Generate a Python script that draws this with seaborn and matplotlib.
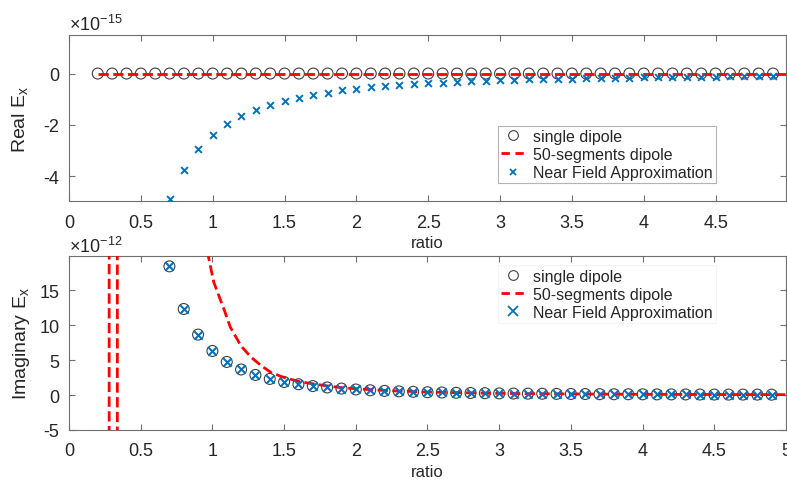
import numpy as np
import pandas as pd
import seaborn as sns
import matplotlib.pyplot as plt
from matplotlib.lines import Line2D

# ratio sample points (markers)
ratio = [0.2, 0.3, 0.4, 0.5, 0.6, 0.7, 0.8, 0.9, 1.0, 1.1, 1.2, 1.3, 1.4, 1.5, 1.6, 1.7,
         1.8, 1.9, 2.0, 2.1, 2.2, 2.3, 2.4, 2.5, 2.6, 2.7, 2.8, 2.9, 3.0, 3.1, 3.2, 3.3,
         3.4, 3.5, 3.6, 3.7, 3.8, 3.9, 4.0, 4.1, 4.2, 4.3, 4.4, 4.5, 4.6, 4.7, 4.8, 4.9]

# real part (x 1e-15)
real_single = [0.0] * len(ratio)
real_seg_ratio = [0.2, 5.0]
real_seg = [0.0, 0.0]
real_nf_ratio = ratio[5:]
real_nf = [-4.90, -3.75, -2.96, -2.40, -1.98, -1.67, -1.42, -1.22, -1.07, -0.94, -0.83,
           -0.74, -0.66, -0.60, -0.54, -0.50, -0.45, -0.42, -0.38, -0.36, -0.33, -0.31,
           -0.29, -0.27, -0.25, -0.23, -0.22, -0.21, -0.20, -0.19, -0.18, -0.17, -0.16,
           -0.15, -0.14, -0.14, -0.13, -0.12, -0.12, -0.11, -0.11, -0.10, -0.10]

# imaginary part (x 1e-12)
imag_ratio = ratio[5:]
imag_single = [18.4, 12.3, 8.64, 6.30, 4.73, 3.65, 2.87, 2.30, 1.87, 1.54, 1.28, 1.08,
               0.92, 0.79, 0.68, 0.59, 0.52, 0.46, 0.40, 0.36, 0.32, 0.29, 0.26, 0.23,
               0.21, 0.19, 0.18, 0.16, 0.15, 0.14, 0.12, 0.11, 0.11, 0.10, 0.09, 0.09,
               0.08, 0.07, 0.07, 0.06, 0.06, 0.06, 0.05]
imag_nf = list(imag_single)
imag_seg_ratio = [0.20, 0.28, 0.28, 0.337, 0.337, 0.97, 1.01, 1.08, 1.125, 1.20, 1.27,
                  1.34, 1.41, 1.50, 1.61, 1.71, 1.80, 1.90, 2.00, 2.20, 2.50, 3.00,
                  3.50, 4.00, 4.50, 5.00]
imag_seg = [60, 60, -60, -60, 60, 20.0, 16.1, 12.3, 9.7, 7.0, 5.4, 4.2, 3.2, 2.5, 1.9,
            1.57, 1.3, 1.05, 0.9, 0.65, 0.42, 0.23, 0.15, 0.10, 0.07, 0.05]

sns.set_theme(style='white')
plt.rcParams['font.family'] = ['Liberation Sans', 'DejaVu Sans']
plt.rcParams['mathtext.fontset'] = 'custom'
plt.rcParams['mathtext.rm'] = 'Liberation Sans'
plt.rcParams['mathtext.it'] = 'Liberation Sans'

circ_col = '#404040'
red = '#ff0000'
blue = '#0072bd'
ax_col = '#6e6e6e'
txt_col = '#262626'

fig = plt.figure(figsize=(7.87, 4.81), dpi=100)
ax1 = fig.add_axes([0.0877, 0.580, 0.911, 0.345])
ax2 = fig.add_axes([0.0877, 0.104, 0.911, 0.362])


def style_axes(ax):
    for s in ax.spines.values():
        s.set_color(ax_col)
        s.set_linewidth(0.8)
    ax.tick_params(direction='in', length=4, width=0.8, color=ax_col,
                   labelsize=13, labelcolor=txt_col, top=True, right=True,
                   bottom=True, left=True, pad=7)
    ax.tick_params(axis='x', pad=9)
    ax.set_xlabel('ratio', fontsize=12, color=txt_col, labelpad=3)


# top panel: real part
sns.scatterplot(x=ratio, y=real_single, ax=ax1, marker='o', s=62,
                facecolor='none', edgecolor=circ_col, linewidth=0.8, zorder=2)
sns.lineplot(x=real_seg_ratio, y=real_seg, ax=ax1, color=red, linewidth=2,
             linestyle='--', dashes=(3, 2), estimator=None, sort=False, zorder=3)
sns.scatterplot(x=real_nf_ratio, y=real_nf, ax=ax1, marker='x', s=24,
                color=blue, linewidth=1.4, zorder=4)
ax1.set_xlim(0, 4.99)
ax1.set_ylim(-4.97, 1.5)
ax1.set_xticks([0, 0.5, 1, 1.5, 2, 2.5, 3, 3.5, 4, 4.5])
ax1.set_xticklabels(['0', '0.5', '1', '1.5', '2', '2.5', '3', '3.5', '4', '4.5'])
ax1.set_yticks([-4, -2, 0])
ax1.set_yticklabels(['-4', '-2', '0'])
ax1.set_ylabel(r'Real E$_\mathregular{x}$', fontsize=14, color=txt_col, labelpad=10)
ax1.text(0.0, 1.005, r'$\times$10$^{-15}$', transform=ax1.transAxes, fontsize=13,
         color=txt_col, ha='left', va='bottom')
style_axes(ax1)

# bottom panel: imaginary part
sns.scatterplot(x=imag_ratio, y=imag_single, ax=ax2, marker='o', s=62,
                facecolor='none', edgecolor=circ_col, linewidth=0.8, zorder=2)
sns.lineplot(x=imag_seg_ratio, y=imag_seg, ax=ax2, color=red, linewidth=2,
             linestyle='--', dashes=(3, 2), estimator=None, sort=False, zorder=3)
sns.scatterplot(x=imag_ratio, y=imag_nf, ax=ax2, marker='x', s=36,
                color=blue, linewidth=1.5, zorder=4)
ax2.set_xlim(0, 5)
ax2.set_ylim(-5, 19.9)
ax2.set_xticks([0, 0.5, 1, 1.5, 2, 2.5, 3, 3.5, 4, 4.5, 5])
ax2.set_xticklabels(['0', '0.5', '1', '1.5', '2', '2.5', '3', '3.5', '4', '4.5', '5'])
ax2.set_yticks([-5, 0, 5, 10, 15])
ax2.set_yticklabels(['-5', '0', '5', '10', '15'])
ax2.set_ylabel(r'Imaginary E$_\mathregular{x}$', fontsize=14, color=txt_col, labelpad=5)
ax2.text(0.0, 1.0, r'$\times$10$^{-12}$', transform=ax2.transAxes, fontsize=13,
         color=txt_col, ha='left', va='bottom')
style_axes(ax2)

labels = ['single dipole', '50-segments dipole', 'Near Field Approximation']


def make_handles(xsize):
    return [
        Line2D([], [], marker='o', linestyle='none', markerfacecolor='none',
               markeredgecolor=circ_col, markersize=7, markeredgewidth=0.8),
        Line2D([], [], color=red, linestyle='--', dashes=(3, 2), linewidth=2),
        Line2D([], [], marker='x', linestyle='none', color=blue,
               markersize=xsize, markeredgewidth=1.3),
    ]


leg1 = ax1.legend(make_handles(5), labels, loc='upper left', bbox_to_anchor=(0.598, 0.455),
                  fontsize=11.5, frameon=True, fancybox=False, handlelength=1.5,
                  handletextpad=0.5, borderpad=0.2, labelspacing=0.2, borderaxespad=0)
leg1.get_frame().set_edgecolor('#a0a0a0')
leg1.get_frame().set_linewidth(0.8)

leg2 = ax2.legend(make_handles(7), labels, loc='upper left', bbox_to_anchor=(0.598, 0.945),
                  fontsize=11.5, frameon=True, fancybox=False, handlelength=1.5,
                  handletextpad=0.5, borderpad=0.2, labelspacing=0.2, borderaxespad=0)
leg2.get_frame().set_edgecolor('#f2f2f2')
leg2.get_frame().set_linewidth(0.8)

for ax in (ax1, ax2):
    for t in ax.get_legend().get_texts():
        t.set_color(txt_col)

fig.savefig('out.png', dpi=100, facecolor='white')
